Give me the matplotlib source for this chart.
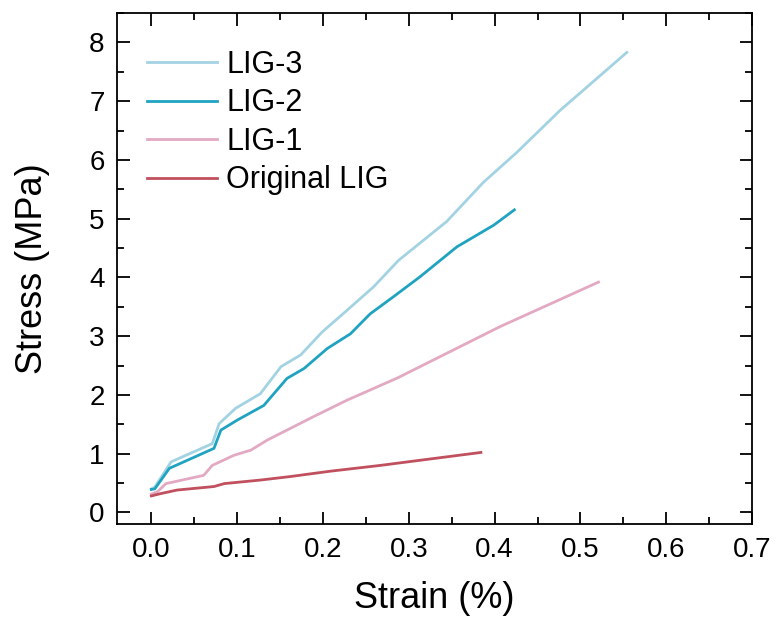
import matplotlib.pyplot as plt
from matplotlib.ticker import MultipleLocator

plt.rcParams['font.family'] = ['Liberation Sans', 'DejaVu Sans']

# strain (%) / stress (MPa) for each sample
strain_lig3 = [0.0, 0.004, 0.023, 0.071, 0.079, 0.098, 0.127, 0.139, 0.151, 0.174,
               0.199, 0.228, 0.259, 0.288, 0.344, 0.387, 0.426, 0.476, 0.554]
stress_lig3 = [0.40, 0.43, 0.86, 1.17, 1.51, 1.77, 2.02, 2.25, 2.48, 2.68,
               3.07, 3.44, 3.84, 4.29, 4.95, 5.62, 6.13, 6.84, 7.83]

strain_lig2 = [0.0, 0.004, 0.021, 0.073, 0.081, 0.100, 0.131, 0.158, 0.178, 0.205,
               0.232, 0.255, 0.282, 0.313, 0.356, 0.399, 0.423]
stress_lig2 = [0.39, 0.40, 0.75, 1.09, 1.40, 1.57, 1.82, 2.28, 2.45, 2.79,
               3.04, 3.38, 3.67, 4.01, 4.52, 4.89, 5.15]

strain_lig1 = [0.0, 0.007, 0.017, 0.061, 0.071, 0.096, 0.116, 0.135, 0.162, 0.189,
               0.228, 0.287, 0.406, 0.521]
stress_lig1 = [0.31, 0.35, 0.49, 0.63, 0.80, 0.97, 1.06, 1.23, 1.43, 1.63,
               1.91, 2.29, 3.16, 3.92]

strain_orig = [0.0, 0.011, 0.030, 0.073, 0.085, 0.127, 0.162, 0.208, 0.267, 0.320, 0.384]
stress_orig = [0.28, 0.32, 0.38, 0.44, 0.49, 0.55, 0.61, 0.70, 0.80, 0.90, 1.02]

fig = plt.figure(figsize=(7.77, 6.21), dpi=100)
ax = fig.add_axes([0.1506, 0.156, 0.8174, 0.823])

ax.plot(strain_lig3, stress_lig3, color='#a3d3e3', lw=2, label='LIG-3')
ax.plot(strain_lig2, stress_lig2, color='#1fa3c1', lw=2, label='LIG-2')
ax.plot(strain_lig1, stress_lig1, color='#e3a9c3', lw=2, label='LIG-1')
ax.plot(strain_orig, stress_orig, color='#c1505e', lw=2, label='Original LIG')

ax.set_xlim(-0.04, 0.7)
ax.set_ylim(-0.2, 8.5)
ax.xaxis.set_major_locator(MultipleLocator(0.1))
ax.xaxis.set_minor_locator(MultipleLocator(0.05))
ax.yaxis.set_major_locator(MultipleLocator(1))
ax.yaxis.set_minor_locator(MultipleLocator(0.5))
ax.tick_params(which='both', direction='in', top=True, right=True, width=1.3, labelsize=20)
ax.tick_params(which='major', length=9, pad=9)
ax.tick_params(which='minor', length=5)
for s in ax.spines.values():
    s.set_linewidth(1.3)

ax.set_xlabel('Strain (%)', fontsize=26, labelpad=13)
ax.set_ylabel('Stress (MPa)', fontsize=26, labelpad=28)

ax.legend(loc='upper left', fontsize=22, frameon=False, handlelength=2.3,
          handletextpad=0.3, labelspacing=0.28, borderaxespad=0.0,
          bbox_to_anchor=(0.028, 0.952))

fig.savefig('out.png', dpi=100)
